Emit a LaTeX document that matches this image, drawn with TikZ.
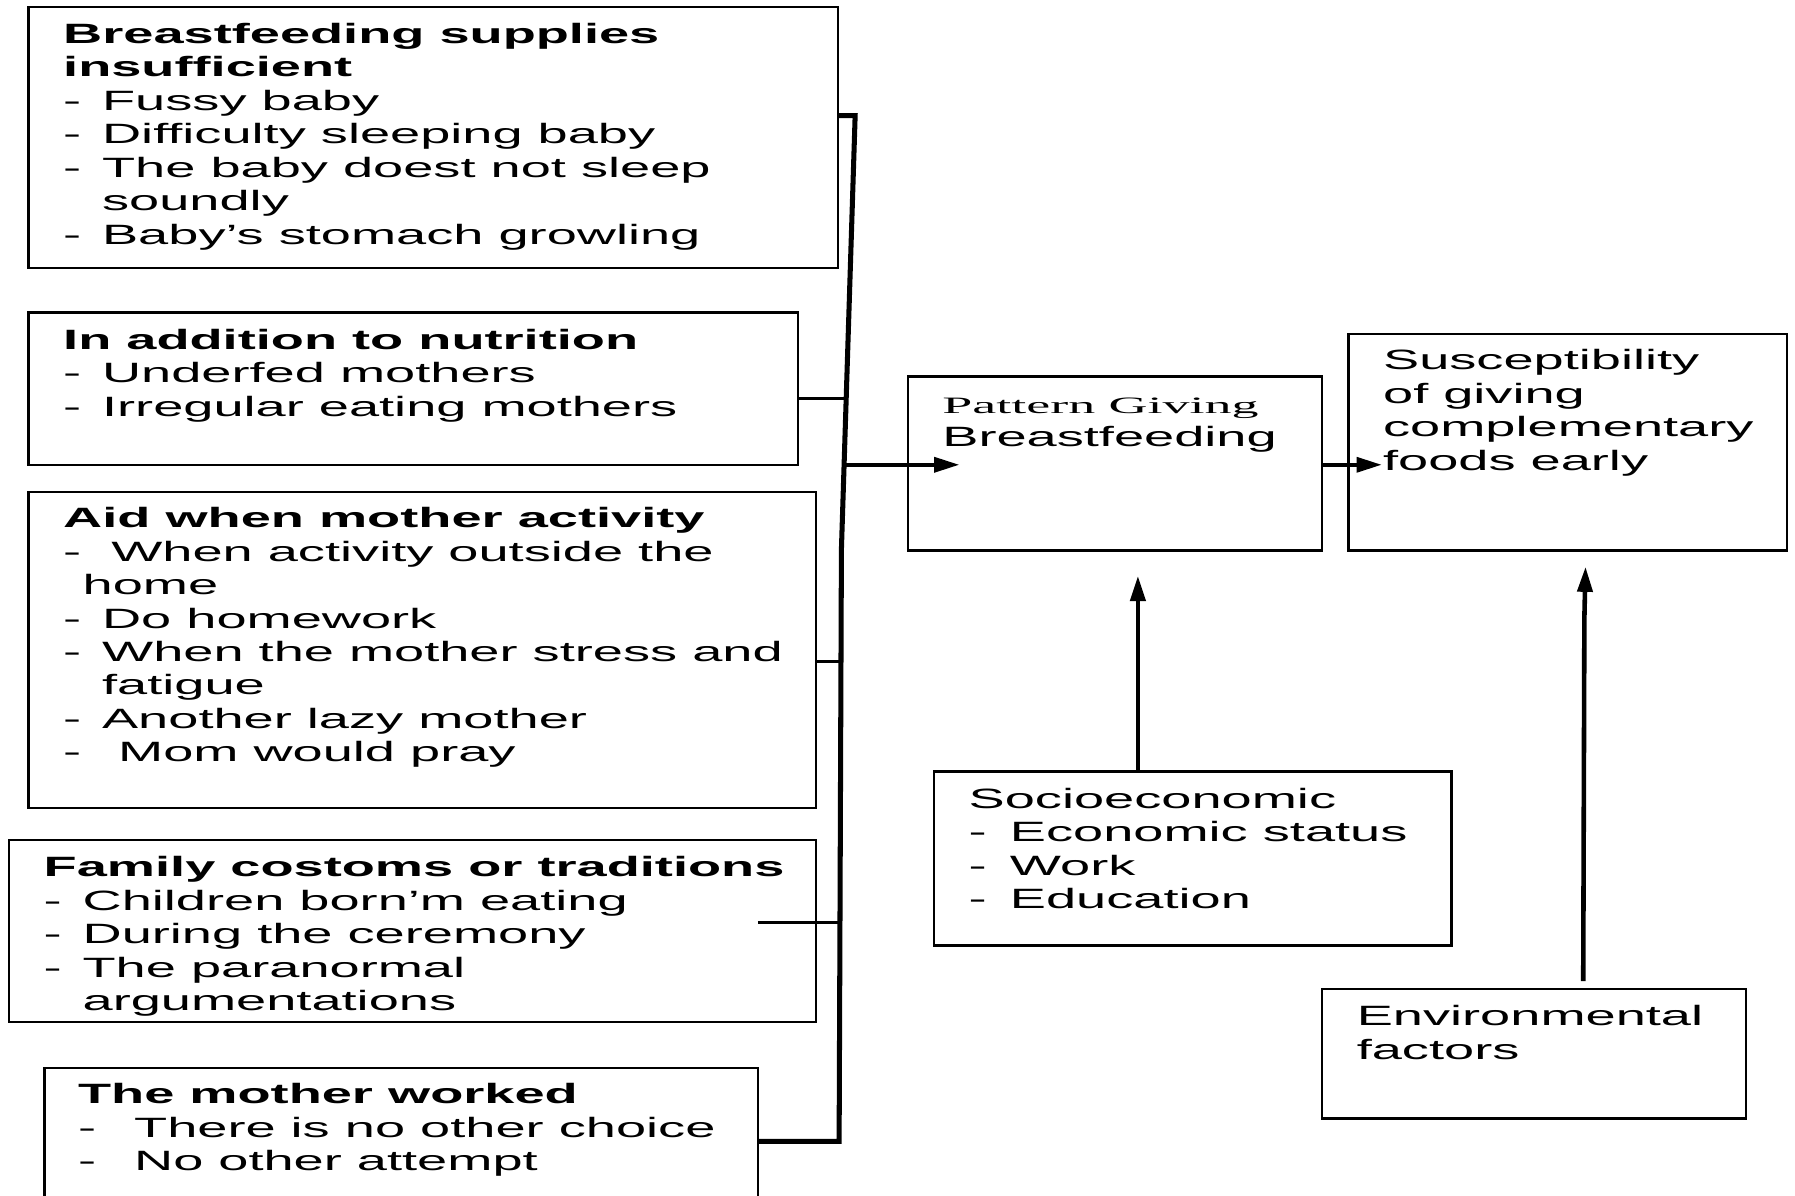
\documentclass[tikz,border=0pt]{standalone}
\usepackage{fontspec}
\setmainfont{Liberation Sans}[FakeStretch=1.94]
\newfontfamily\serifwide{Liberation Serif}[FakeStretch=2.3]
\usetikzlibrary{arrows.meta,calc}

% dash-led list line: dash, then the text at a fixed indent
\newcommand\bul[2][34pt]{\makebox[#1][l]{-}#2}

\tikzset{
  box/.style={draw, line width=2.1pt, inner sep=0pt, outer sep=0pt, anchor=north west},
  % text blocks are placed by the baseline of their last line
  txt/.style={anchor=base west, inner sep=0pt, align=left,
              font=\fontsize{24.4}{29.2}\selectfont},
  trunk/.style={line width=4.4pt, line join=miter},
  stub/.style={line width=2.8pt},
  arr/.style={line width=3.3pt, -{Triangle[length=22pt,width=13pt]}},
  uparr/.style={arr, line width=4pt},
}

\begin{document}
\begin{tikzpicture}[x=1pt,y=-1pt]
\clip (0,0) rectangle (1568,1044);
\fill[white] (0,0) rectangle (1568,1044);

% left column of cause boxes
\node[box, minimum width=707, minimum height=228] (b1) at (25,6) {};
\node[txt] (b1t) at (55,213.2) {\textbf{Breastfeeding supplies}\\
  \textbf{insufficient}\\
  \bul{Fussy baby}\\
  \bul{Difficulty sleeping baby}\\
  \bul{The baby doest not sleep}\\
  \hspace*{34pt}soundly\\
  \bul{Baby’s stomach growling}};

\node[box, minimum width=672, minimum height=133] (b2) at (25,273) {};
\node[txt] (b2t) at (55,363.4) {\textbf{In addition to nutrition}\\
  \bul{Underfed mothers}\\
  \bul{Irregular eating mothers}};

\node[box, minimum width=688, minimum height=276] (b3) at (25,430) {};
\node[txt] (b3t) at (55,665.4) {\textbf{Aid when mother activity}\\
  \bul[42pt]{When activity outside the}\\
  \hspace*{17pt}home\\
  \bul{Do homework}\\
  \bul{When the mother stress and}\\
  \hspace*{34pt}fatigue\\
  \bul{Another lazy mother}\\
  \bul[48pt]{Mom would pray}};

\node[box, minimum width=705, minimum height=159] (b4) at (8,734) {};
\node[txt] (b4t) at (38,882.8) {\textbf{Family costoms or traditions}\\
  \bul{Children born’m eating}\\
  \bul{During the ceremony}\\
  \bul{The paranormal}\\
  \hspace*{34pt}argumentations};

\node[box, minimum width=623, minimum height=140] (b5) at (39,933) {};
\node[txt] (b5t) at (68,1022.4) {\textbf{The mother worked}\\
  \bul[49pt]{There is no other choice}\\
  \bul[49pt]{No other attempt}};

% right-hand boxes
\node[box, minimum width=362, minimum height=152] (pat) at (793,329) {};
\node[txt] (patt) at (823,390.2) {{\serifwide\fontsize{20.5}{29.2}\selectfont Pattern Giving}\\
  Breastfeeding};

\node[box, minimum width=383, minimum height=189] (sus) at (1178,292) {};
\node[txt] (sust) at (1208,410.6) {Susceptibility\\ of giving\\ complementary\\ foods early};

\node[box, minimum width=452, minimum height=152] (soc) at (816,674) {};
\node[txt] (soct) at (846,793.6) {Socioeconomic\\
  \bul[36pt]{Economic status}\\
  \bul[36pt]{Work}\\
  \bul[36pt]{Education}};

\node[box, minimum width=370, minimum height=113] (env) at (1155,864) {};
\node[txt] (envt) at (1185,925.2) {Environmental\\ factors};

% collecting trunk on the right of the cause boxes
\coordinate (jtop) at (747,101);
\coordinate (jmid) at (735,480);
\coordinate (jbot) at (733,997);
\coordinate (j2) at (739.2,348);
\coordinate (ja) at (737.3,406);
\coordinate (j3) at (734.6,578);
\coordinate (j4) at (733.6,806);
\coordinate (c4) at (662,806);

\draw[trunk] (b1.east |- jtop) -- (jtop) -- (jmid) -- (jbot) -- (b5.east |- jbot);
\draw[stub] (b2.east |- j2) -- (j2);
\draw[stub] (b3.east |- j3) -- (j3);
\draw[stub] (c4) -- (j4);

% arrows into the outcome boxes
\coordinate (patin) at (838,406);
\coordinate (susin) at (1207,406);
\coordinate (patlow) at (994,503);
\coordinate (suslow) at (1385,495);
\coordinate (bend) at (1384,540);
\coordinate (envup) at (1383,857);

\draw[arr] (ja) -- (patin);
\draw[arr] (pat.east |- susin) -- (susin);
\draw[uparr] (soc.north -| patlow) -- (patlow);
\draw[uparr] (envup) -- (bend) -- (suslow);
\end{tikzpicture}
\end{document}
